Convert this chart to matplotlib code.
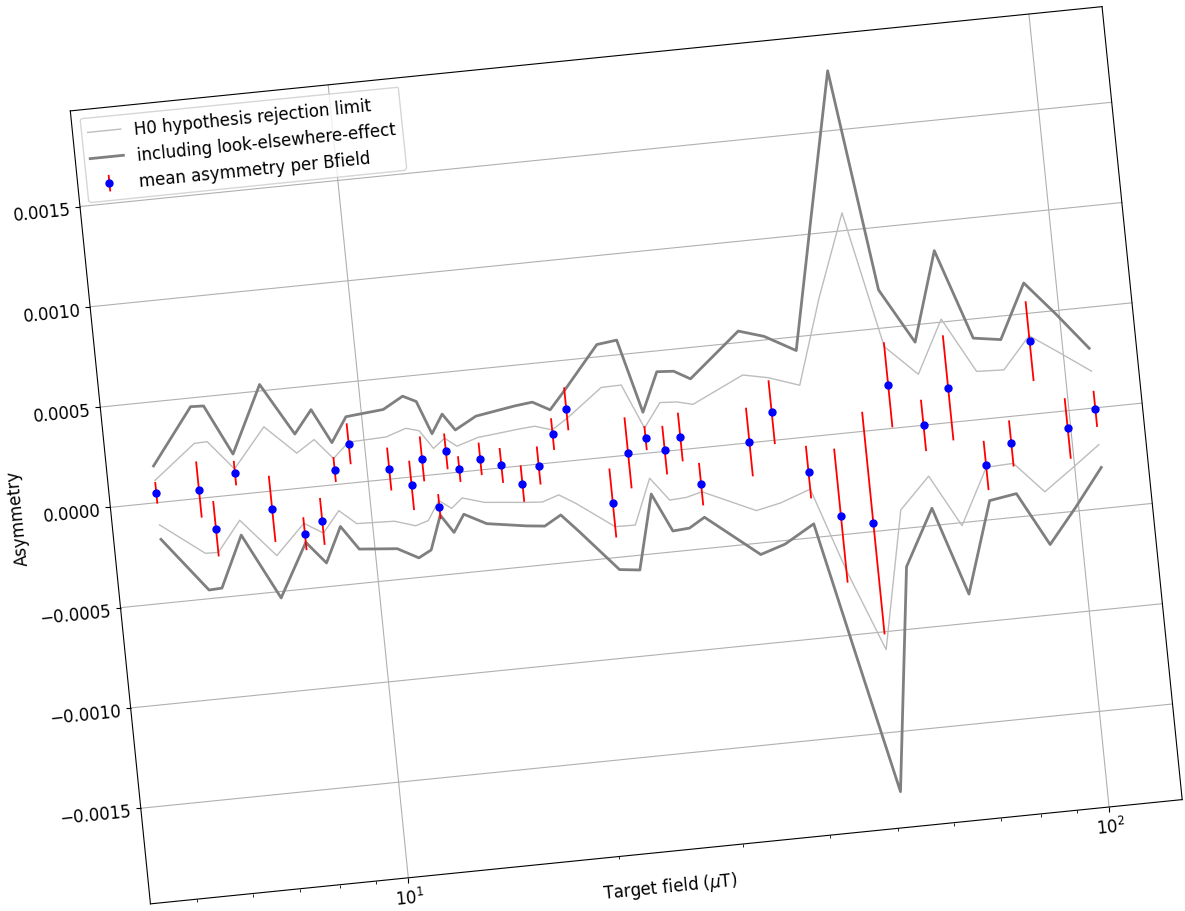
# Mean asymmetry per B-field with H0 rejection limits (figure is drawn tilted, like the scan)

import matplotlib
matplotlib.use("Agg")
import matplotlib.pyplot as plt
from matplotlib.artist import Artist
from matplotlib.collections import Collection
from matplotlib.lines import Line2D
from matplotlib.patches import Patch
from matplotlib.text import Text
from matplotlib.transforms import Affine2D
import numpy as np


bfield = [5, 5.75, 6, 6.5, 7.25, 8, 8.5, 9, 9.5, 10.75,
          11.5, 12, 12.5, 13, 13.5, 14.5, 15.5, 16.5, 17.5, 18.5,
          19.5, 22, 23.5, 25, 26.5, 28, 29.5, 35, 38, 42,
          46, 51, 56, 62, 68, 75, 82, 90, 99, 109]

# values in units of 1e-4
asym = [0.49, 0.44, -1.58, 1.07, -0.88, -2.27, -1.75, 0.75, 1.95, 0.50,
        -0.42, 0.84, -1.60, 1.09, 0.15, 0.55, 0.12, -0.88, -0.07, 1.41,
        2.59, -2.29, 0.11, 0.75, 0.06, 0.63, -1.80, 0.04, 1.40, -1.74,
        -4.05, -4.58, 2.17, -0.01, 1.72, -2.30, -1.34, 3.62, -0.88, -0.05]

asym_err = [0.54, 1.40, 1.38, 0.61, 1.65, 0.82, 1.17, 0.62, 1.02, 1.07,
            1.23, 1.12, 0.62, 0.89, 0.64, 0.81, 0.87, 0.91, 0.95, 0.79,
            1.07, 1.72, 1.77, 0.60, 1.21, 1.21, 1.06, 1.71, 1.59, 1.31,
            3.34, 5.55, 2.12, 1.28, 2.62, 1.23, 1.15, 1.99, 1.51, 0.90]

h0_limit = [1.11, 2.74, 2.76, 1.28, 3.21, 1.75, 2.33, 1.30, 2.03, 2.10,
            2.43, 2.24, 1.30, 1.75, 1.29, 1.62, 1.72, 1.82, 1.89, 1.62,
            2.12, 3.47, 3.49, 1.25, 2.43, 2.38, 2.18, 3.38, 3.12, 2.59,
            6.78, 10.89, 4.07, 2.54, 5.15, 2.39, 2.33, 3.89, 2.88, 1.83]

lee_limit = [1.83, 4.57, 4.54, 2.02, 5.32, 2.70, 3.82, 2.09, 3.30, 3.47,
             4.03, 3.70, 2.03, 2.95, 2.10, 2.68, 2.84, 2.99, 3.09, 2.62,
             3.50, 5.61, 5.73, 2.04, 3.97, 3.91, 3.45, 5.57, 5.18, 4.32,
             10.75, 17.97, 6.90, 4.14, 8.56, 4.05, 3.84, 6.52, 4.81, 2.97]

asym = np.array(asym) * 1e-4
asym_err = np.array(asym_err) * 1e-4
h0_limit = np.array(h0_limit) * 1e-4
lee_limit = np.array(lee_limit) * 1e-4

###

# Drawing

plt.rcParams.update({"font.size": 12})

W, H = 1185, 912
fig = plt.figure(figsize=(W / 100, H / 100), dpi=100)
ax = fig.add_axes([107.75 / W, 57.25 / H, 1037 / W, 797 / H])

ax.plot(bfield, h0_limit, color="#bdbdbd", lw=1.0,
        label="H0 hypothesis rejection limit")
ax.plot(bfield, -h0_limit, color="#bdbdbd", lw=1.0)
ax.plot(bfield, lee_limit, color="#7f7f7f", lw=2.0,
        label="including look-elsewhere-effect")
ax.plot(bfield, -lee_limit, color="#7f7f7f", lw=2.0)
ax.errorbar(bfield, asym, yerr=asym_err, fmt="o", color="b", ecolor="r",
            ms=5, elinewidth=1.3, label="mean asymmetry per Bfield")

ax.set_xscale("log")
ax.grid(True)
ax.set_xlabel(r"Target field ($\mu$T)", labelpad=-4.5)
ax.set_ylabel("Asymmetry", labelpad=2)
leg = ax.legend(loc="upper left")

# tilt the whole picture by a few degrees
ANG = 5.77
rot = Affine2D().rotate_deg_around(626.25, 455.75, ANG)

fig.canvas.draw()
for axis in (ax.xaxis, ax.yaxis):
    lab = axis.label
    xy = lab.get_transform().transform(lab.get_position())
    axis.set_label_coords(*ax.transAxes.inverted().transform(xy))

legend_parts = {id(a) for a in leg.findobj()}
for a in fig.findobj():
    if a is fig.patch or not isinstance(a, (Line2D, Patch, Text, Collection)):
        continue
    base = Artist.get_transform(a)
    if id(a) in legend_parts:
        base = base.frozen()
    a.set_transform(base + rot)
    a.set_clip_on(False)
    if isinstance(a, Text):
        a.set_rotation(a.get_rotation() + ANG)
        a.set_rotation_mode("anchor")
leg.legendPatch.set_bounds = lambda *args, **kwargs: None

fig.savefig("out.png", dpi=100, facecolor="white")
